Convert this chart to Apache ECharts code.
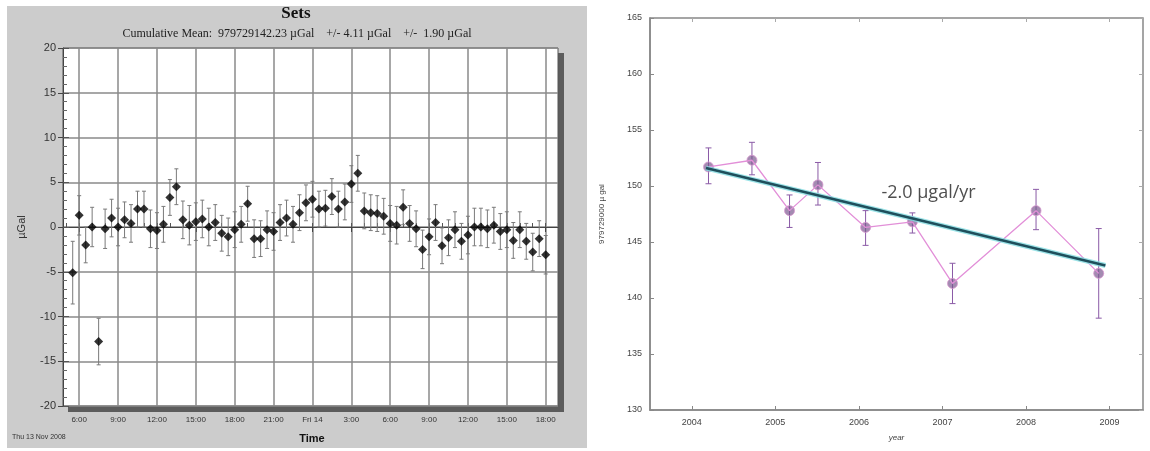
<!DOCTYPE html>
<html><head><meta charset="utf-8">
<script src="https://cdn.jsdelivr.net/npm/echarts@6/dist/echarts.min.js"></script>
<style>html,body{margin:0;padding:0;background:#fff}#c{width:1150px;height:451px}</style>
</head><body><div id="c"></div>
<script>
// ---------- Left panel: Sets ----------
const leftTitle = 'Sets';
const leftSubtitle = 'Cumulative Mean:  979729142.23 µGal    +/- 4.11 µGal    +/-  1.90 µGal';
const leftDateLabel = 'Thu 13 Nov 2008';
const leftHours = [5.5,6.0,6.5,7.0,7.5,8.0,8.5,9.0,9.5,10.0,10.5,11.0,11.5,12.0,12.5,13.0,13.5,14.0,14.5,15.0,
  15.5,16.0,16.5,17.0,17.5,18.0,18.5,19.0,19.5,20.0,20.5,21.0,21.5,22.0,22.5,23.0,23.5,24.0,24.5,25.0,
  25.5,26.0,26.5,27.0,27.5,28.0,28.5,29.0,29.5,30.0,30.5,31.0,31.5,32.0,32.5,33.0,33.5,34.0,34.5,35.0,
  35.5,36.0,36.5,37.0,37.5,38.0,38.5,39.0,39.5,40.0,40.5,41.0,41.5,42.0];
const leftValues = [-5.1,1.3,-2.0,0.0,-12.8,-0.2,1.0,0.0,0.8,0.4,2.0,2.0,-0.2,-0.4,0.3,3.3,4.5,0.8,0.2,0.6,
  0.9,0.0,0.5,-0.7,-1.1,-0.3,0.3,2.6,-1.3,-1.3,-0.3,-0.5,0.5,1.0,0.3,1.6,2.7,3.1,2.0,2.1,
  3.4,2.0,2.8,4.8,6.0,1.8,1.6,1.5,1.2,0.4,0.2,2.2,0.4,-0.2,-2.5,-1.1,0.5,-2.1,-1.2,-0.3,
  -1.6,-0.9,0.0,0.0,-0.2,0.2,-0.5,-0.3,-1.5,-0.3,-1.6,-2.8,-1.3,-3.1];
const leftErrors = [3.5,2.2,2.0,2.2,2.6,2.2,2.1,2.1,2.0,2.1,2.0,2.0,2.1,2.0,2.0,2.0,2.0,2.1,2.2,2.1,
  2.1,2.1,2.0,2.0,2.1,2.0,2.0,1.95,2.1,2.0,2.1,2.1,2.0,2.0,2.0,2.0,2.0,2.0,2.0,2.0,
  2.0,2.0,2.0,2.05,2.0,2.0,2.0,2.0,2.0,2.0,2.1,1.95,2.0,2.0,2.15,2.0,2.0,2.0,2.0,2.0,
  2.0,2.1,2.1,2.1,2.1,2.0,2.0,2.0,2.0,2.0,2.0,2.1,2.0,2.15];
const leftTickHours = [6,9,12,15,18,21,24,27,30,33,36,39,42];
const leftTickLabels = ['6:00','9:00','12:00','15:00','18:00','21:00','Fri 14','3:00','6:00','9:00','12:00','15:00','18:00'];

// ---------- Right panel: yearly means ----------
const rightYears = [2004.20,2004.72,2005.17,2005.51,2006.08,2006.64,2007.12,2008.12,2008.87];
const rightValues = [151.7,152.3,147.8,150.1,146.3,146.8,141.3,147.8,142.2];
const rightErrLow = [150.2,151.0,146.3,148.3,144.7,145.8,139.5,146.1,138.2];
const rightErrHigh = [153.4,153.9,149.2,152.1,147.8,147.6,143.1,149.7,146.2];
const trendYears = [2004.17,2008.95];
const trendValues = [151.6,142.9];
const trendLabel = '-2.0 µgal/yr';
const trendLabelPos = [2006.27, 149.4];
const rightTickYears = [2004,2005,2006,2007,2008,2009];

const minorHours = [];
for (let h = 5; h <= 42; h++) minorHours.push(h);

function errRender(color, cap, width) {
  return function (params, api) {
    const x = api.value(0), lo = api.value(1), hi = api.value(2);
    const p1 = api.coord([x, lo]), p2 = api.coord([x, hi]);
    const st = {stroke: color, lineWidth: width};
    return {type: 'group', children: [
      {type: 'line', shape: {x1: p1[0], y1: p1[1], x2: p2[0], y2: p2[1]}, style: st},
      {type: 'line', shape: {x1: p1[0]-cap, y1: p1[1], x2: p1[0]+cap, y2: p1[1]}, style: st},
      {type: 'line', shape: {x1: p2[0]-cap, y1: p2[1], x2: p2[0]+cap, y2: p2[1]}, style: st}
    ]};
  };
}

const leftErrData = leftHours.map((h, i) => [h, leftValues[i]-leftErrors[i], leftValues[i]+leftErrors[i]]);
const leftPts = leftHours.map((h, i) => [h, leftValues[i]]);
const rightErrData = rightYears.map((y, i) => [y, rightErrLow[i], rightErrHigh[i]]);
const rightPts = rightYears.map((y, i) => [y, rightValues[i]]);
const trendPts = trendYears.map((y, i) => [y, trendValues[i]]);

const chart = echarts.init(document.getElementById('c'), null, {renderer: 'canvas'});
const sans = 'Liberation Sans, Arial, sans-serif';
const serif = 'Liberation Serif, Times New Roman, serif';

chart.setOption({
  animation: false,
  backgroundColor: '#fff',
  graphic: [
    {type: 'rect', z: -10, shape: {x: 7, y: 6, width: 580, height: 442}, style: {fill: '#cccccc'}},
    {type: 'rect', z: -5, shape: {x: 558, y: 53, width: 6, height: 359}, style: {fill: '#5c5c5c'}},
    {type: 'rect', z: -5, shape: {x: 68, y: 406, width: 496, height: 6}, style: {fill: '#5c5c5c'}},
    {type: 'text', x: 296, y: 14, style: {text: leftTitle, font: 'bold 17px ' + serif, fill: '#111', align: 'center', verticalAlign: 'middle'}},
    {type: 'text', x: 297, y: 34, style: {text: leftSubtitle, font: '12px ' + serif, fill: '#222', align: 'center', verticalAlign: 'middle'}},
    {type: 'text', x: 12, y: 437, style: {text: leftDateLabel, font: '7px ' + sans, fill: '#333', align: 'left', verticalAlign: 'middle'}},
    {type: 'text', x: 312, y: 439, style: {text: 'Time', font: 'bold 11px ' + sans, fill: '#111', align: 'center', verticalAlign: 'middle'}}
  ],
  grid: [
    {left: 63, top: 48, width: 495, height: 358, show: true, backgroundColor: '#fff', borderColor: '#555', borderWidth: 1},
    {left: 650, top: 18, right: 7, bottom: 41, show: true, backgroundColor: '#fff', borderColor: '#888', borderWidth: 1.5}
  ],
  xAxis: [
    {type: 'value', gridIndex: 0, min: 4.75, max: 42.95,
      axisLine: {show: true, lineStyle: {color: '#444', width: 1}},
      axisTick: {show: true, customValues: leftTickHours, length: 5, lineStyle: {color: '#444'}},
      axisLabel: {customValues: leftTickHours, fontSize: 8, color: '#333', fontFamily: sans, margin: 10,
        formatter: v => { const i = leftTickHours.indexOf(Math.round(v)); return i >= 0 ? leftTickLabels[i] : ''; }},
      splitLine: {show: true, lineStyle: {color: '#8a8a8a', width: 1.5}}},
    {type: 'value', gridIndex: 0, min: 4.75, max: 42.95, position: 'bottom',
      axisLine: {show: false}, axisLabel: {show: false}, splitLine: {show: false},
      axisTick: {show: true, inside: true, customValues: minorHours, length: 4, lineStyle: {color: '#555'}}},
    {type: 'value', gridIndex: 1, min: 2003.5, max: 2009.4,
      axisLine: {show: true, lineStyle: {color: '#888', width: 1.5}},
      axisTick: {show: true, inside: true, customValues: rightTickYears, length: 4, lineStyle: {color: '#888'}},
      axisLabel: {customValues: rightTickYears, fontSize: 9, color: '#444', fontFamily: sans, margin: 8,
        formatter: v => String(Math.round(v))},
      splitLine: {show: false},
      name: 'year', nameLocation: 'middle', nameGap: 24,
      nameTextStyle: {fontSize: 8, fontStyle: 'italic', color: '#444', fontFamily: sans}},
    {type: 'value', gridIndex: 1, min: 2003.5, max: 2009.4, position: 'top',
      axisLine: {show: false}, axisLabel: {show: false}, splitLine: {show: false},
      axisTick: {show: true, inside: true, customValues: rightTickYears, length: 4, lineStyle: {color: '#aaa'}}}
  ],
  yAxis: [
    {type: 'value', gridIndex: 0, min: -20, max: 20, interval: 5,
      axisLine: {show: true, lineStyle: {color: '#444'}},
      axisTick: {show: true, length: 5, lineStyle: {color: '#444'}},
      axisLabel: {fontSize: 11, color: '#333', fontFamily: sans, margin: 7},
      splitLine: {show: true, lineStyle: {color: '#8a8a8a', width: 1.5}},
      name: 'µGal', nameLocation: 'middle', nameGap: 36, nameRotate: 90,
      nameTextStyle: {fontSize: 11, color: '#333', fontFamily: sans}},
    {type: 'value', gridIndex: 0, min: -20, max: 20, interval: 5, position: 'left',
      axisLine: {show: false}, axisLabel: {show: false}, splitLine: {show: false},
      axisTick: {show: true, inside: true, length: 6, lineStyle: {color: '#555'}},
      minorTick: {show: true, splitNumber: 5, length: 4, lineStyle: {color: '#666'}}},
    {type: 'value', gridIndex: 1, min: 130, max: 165, interval: 5,
      axisLine: {show: true, lineStyle: {color: '#888', width: 1.5}},
      axisTick: {show: true, inside: true, length: 4, lineStyle: {color: '#888'}},
      axisLabel: {fontSize: 9, color: '#444', fontFamily: sans, margin: 8},
      splitLine: {show: false},
      name: '979729000 µ gal', nameLocation: 'middle', nameGap: 44, nameRotate: 90,
      nameTextStyle: {fontSize: 8, color: '#444', fontFamily: sans}},
    {type: 'value', gridIndex: 1, min: 130, max: 165, interval: 5, position: 'right',
      axisLine: {show: false}, axisLabel: {show: false}, splitLine: {show: false},
      axisTick: {show: true, inside: true, length: 4, lineStyle: {color: '#aaa'}}}
  ],
  series: [
    {type: 'custom', xAxisIndex: 0, yAxisIndex: 0, data: leftErrData, encode: {x: 0, y: [1, 2]},
      renderItem: errRender('#7a7a7a', 2, 1), silent: true},
    {type: 'scatter', xAxisIndex: 0, yAxisIndex: 0, data: leftPts, symbol: 'diamond', symbolSize: 9,
      itemStyle: {color: '#000'}},
    {type: 'line', xAxisIndex: 2, yAxisIndex: 2, data: rightPts, showSymbol: false,
      lineStyle: {color: '#e28fd8', width: 1.3}},
    {type: 'custom', xAxisIndex: 2, yAxisIndex: 2, data: rightErrData, encode: {x: 0, y: [1, 2]},
      renderItem: errRender('#8a5aa6', 3, 1), silent: true},
    {type: 'scatter', xAxisIndex: 2, yAxisIndex: 2, data: rightPts, symbol: 'circle', symbolSize: 10,
      itemStyle: {color: 'rgba(120,85,140,0.85)', borderColor: '#d898d0', borderWidth: 1}},
    {type: 'line', xAxisIndex: 2, yAxisIndex: 2, data: trendPts, showSymbol: false,
      lineStyle: {color: 'rgba(130,220,225,0.8)', width: 5}},
    {type: 'line', xAxisIndex: 2, yAxisIndex: 2, data: trendPts, showSymbol: false,
      lineStyle: {color: '#1f4f5c', width: 2.5}},
    {type: 'scatter', xAxisIndex: 2, yAxisIndex: 2, data: [trendLabelPos], symbolSize: 0,
      label: {show: true, position: 'right', distance: 0, formatter: trendLabel,
        fontSize: 18, color: '#222', fontFamily: 'Open Sans, DejaVu Sans, sans-serif'}}
  ]
});
</script>
</body></html>
